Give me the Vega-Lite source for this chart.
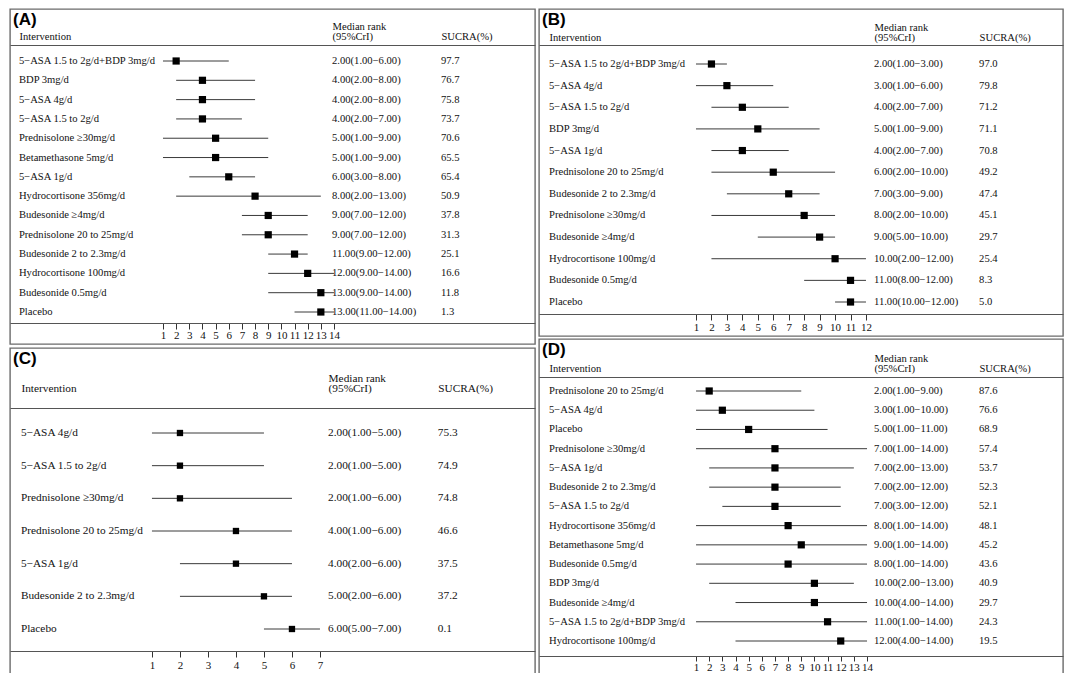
{
  "$schema": "https://vega.github.io/schema/vega-lite/v6.json",
  "background": "white",
  "padding": {"left": 9, "top": 8, "right": 0, "bottom": 0},
  "spacing": 2,
  "config": {
    "view": {"stroke": "#6b6b6b", "strokeWidth": 1.4},
    "font": "Liberation Serif",
    "text": {"font": "Liberation Serif", "color": "#111", "baseline": "middle"},
    "axis": {"labelFont": "Liberation Serif", "labelColor": "#111", "domainColor": "#555", "domainWidth": 1.2, "tickColor": "#333", "grid": false, "title": null, "labelOverlap": false, "labelFlush": false, "labelBound": false},
    "title": {"font": "Liberation Sans", "fontSize": 17, "fontWeight": "bold", "color": "#000", "anchor": "start", "frame": "group", "baseline": "bottom"}
  },
  "datasets": {
    "A": [
      {"name": "5−ASA 1.5 to 2g/d+BDP 3mg/d", "med": 2, "lo": 1, "hi": 6, "cri": "2.00(1.00−6.00)", "sucra": 97.7},
      {"name": "BDP 3mg/d", "med": 4, "lo": 2, "hi": 8, "cri": "4.00(2.00−8.00)", "sucra": 76.7},
      {"name": "5−ASA 4g/d", "med": 4, "lo": 2, "hi": 8, "cri": "4.00(2.00−8.00)", "sucra": 75.8},
      {"name": "5−ASA 1.5 to 2g/d", "med": 4, "lo": 2, "hi": 7, "cri": "4.00(2.00−7.00)", "sucra": 73.7},
      {"name": "Prednisolone ≥30mg/d", "med": 5, "lo": 1, "hi": 9, "cri": "5.00(1.00−9.00)", "sucra": 70.6},
      {"name": "Betamethasone 5mg/d", "med": 5, "lo": 1, "hi": 9, "cri": "5.00(1.00−9.00)", "sucra": 65.5},
      {"name": "5−ASA 1g/d", "med": 6, "lo": 3, "hi": 8, "cri": "6.00(3.00−8.00)", "sucra": 65.4},
      {"name": "Hydrocortisone 356mg/d", "med": 8, "lo": 2, "hi": 13, "cri": "8.00(2.00−13.00)", "sucra": 50.9},
      {"name": "Budesonide ≥4mg/d", "med": 9, "lo": 7, "hi": 12, "cri": "9.00(7.00−12.00)", "sucra": 37.8},
      {"name": "Prednisolone 20 to 25mg/d", "med": 9, "lo": 7, "hi": 12, "cri": "9.00(7.00−12.00)", "sucra": 31.3},
      {"name": "Budesonide 2 to 2.3mg/d", "med": 11, "lo": 9, "hi": 12, "cri": "11.00(9.00−12.00)", "sucra": 25.1},
      {"name": "Hydrocortisone 100mg/d", "med": 12, "lo": 9, "hi": 14, "cri": "12.00(9.00−14.00)", "sucra": 16.6},
      {"name": "Budesonide 0.5mg/d", "med": 13, "lo": 9, "hi": 14, "cri": "13.00(9.00−14.00)", "sucra": 11.8},
      {"name": "Placebo", "med": 13, "lo": 11, "hi": 14, "cri": "13.00(11.00−14.00)", "sucra": 1.3}
    ],
    "B": [
      {"name": "5−ASA 1.5 to 2g/d+BDP 3mg/d", "med": 2, "lo": 1, "hi": 3, "cri": "2.00(1.00−3.00)", "sucra": 97.0},
      {"name": "5−ASA 4g/d", "med": 3, "lo": 1, "hi": 6, "cri": "3.00(1.00−6.00)", "sucra": 79.8},
      {"name": "5−ASA 1.5 to 2g/d", "med": 4, "lo": 2, "hi": 7, "cri": "4.00(2.00−7.00)", "sucra": 71.2},
      {"name": "BDP 3mg/d", "med": 5, "lo": 1, "hi": 9, "cri": "5.00(1.00−9.00)", "sucra": 71.1},
      {"name": "5−ASA 1g/d", "med": 4, "lo": 2, "hi": 7, "cri": "4.00(2.00−7.00)", "sucra": 70.8},
      {"name": "Prednisolone 20 to 25mg/d", "med": 6, "lo": 2, "hi": 10, "cri": "6.00(2.00−10.00)", "sucra": 49.2},
      {"name": "Budesonide 2 to 2.3mg/d", "med": 7, "lo": 3, "hi": 9, "cri": "7.00(3.00−9.00)", "sucra": 47.4},
      {"name": "Prednisolone ≥30mg/d", "med": 8, "lo": 2, "hi": 10, "cri": "8.00(2.00−10.00)", "sucra": 45.1},
      {"name": "Budesonide ≥4mg/d", "med": 9, "lo": 5, "hi": 10, "cri": "9.00(5.00−10.00)", "sucra": 29.7},
      {"name": "Hydrocortisone 100mg/d", "med": 10, "lo": 2, "hi": 12, "cri": "10.00(2.00−12.00)", "sucra": 25.4},
      {"name": "Budesonide 0.5mg/d", "med": 11, "lo": 8, "hi": 12, "cri": "11.00(8.00−12.00)", "sucra": 8.3},
      {"name": "Placebo", "med": 11, "lo": 10, "hi": 12, "cri": "11.00(10.00−12.00)", "sucra": 5.0}
    ],
    "C": [
      {"name": "5−ASA 4g/d", "med": 2, "lo": 1, "hi": 5, "cri": "2.00(1.00−5.00)", "sucra": 75.3},
      {"name": "5−ASA 1.5 to 2g/d", "med": 2, "lo": 1, "hi": 5, "cri": "2.00(1.00−5.00)", "sucra": 74.9},
      {"name": "Prednisolone ≥30mg/d", "med": 2, "lo": 1, "hi": 6, "cri": "2.00(1.00−6.00)", "sucra": 74.8},
      {"name": "Prednisolone 20 to 25mg/d", "med": 4, "lo": 1, "hi": 6, "cri": "4.00(1.00−6.00)", "sucra": 46.6},
      {"name": "5−ASA 1g/d", "med": 4, "lo": 2, "hi": 6, "cri": "4.00(2.00−6.00)", "sucra": 37.5},
      {"name": "Budesonide 2 to 2.3mg/d", "med": 5, "lo": 2, "hi": 6, "cri": "5.00(2.00−6.00)", "sucra": 37.2},
      {"name": "Placebo", "med": 6, "lo": 5, "hi": 7, "cri": "6.00(5.00−7.00)", "sucra": 0.1}
    ],
    "D": [
      {"name": "Prednisolone 20 to 25mg/d", "med": 2, "lo": 1, "hi": 9, "cri": "2.00(1.00−9.00)", "sucra": 87.6},
      {"name": "5−ASA 4g/d", "med": 3, "lo": 1, "hi": 10, "cri": "3.00(1.00−10.00)", "sucra": 76.6},
      {"name": "Placebo", "med": 5, "lo": 1, "hi": 11, "cri": "5.00(1.00−11.00)", "sucra": 68.9},
      {"name": "Prednisolone ≥30mg/d", "med": 7, "lo": 1, "hi": 14, "cri": "7.00(1.00−14.00)", "sucra": 57.4},
      {"name": "5−ASA 1g/d", "med": 7, "lo": 2, "hi": 13, "cri": "7.00(2.00−13.00)", "sucra": 53.7},
      {"name": "Budesonide 2 to 2.3mg/d", "med": 7, "lo": 2, "hi": 12, "cri": "7.00(2.00−12.00)", "sucra": 52.3},
      {"name": "5−ASA 1.5 to 2g/d", "med": 7, "lo": 3, "hi": 12, "cri": "7.00(3.00−12.00)", "sucra": 52.1},
      {"name": "Hydrocortisone 356mg/d", "med": 8, "lo": 1, "hi": 14, "cri": "8.00(1.00−14.00)", "sucra": 48.1},
      {"name": "Betamethasone 5mg/d", "med": 9, "lo": 1, "hi": 14, "cri": "9.00(1.00−14.00)", "sucra": 45.2},
      {"name": "Budesonide 0.5mg/d", "med": 8, "lo": 1, "hi": 14, "cri": "8.00(1.00−14.00)", "sucra": 43.6},
      {"name": "BDP 3mg/d", "med": 10, "lo": 2, "hi": 13, "cri": "10.00(2.00−13.00)", "sucra": 40.9},
      {"name": "Budesonide ≥4mg/d", "med": 10, "lo": 4, "hi": 14, "cri": "10.00(4.00−14.00)", "sucra": 29.7},
      {"name": "5−ASA 1.5 to 2g/d+BDP 3mg/d", "med": 11, "lo": 1, "hi": 14, "cri": "11.00(1.00−14.00)", "sucra": 24.3},
      {"name": "Hydrocortisone 100mg/d", "med": 12, "lo": 4, "hi": 14, "cri": "12.00(4.00−14.00)", "sucra": 19.5}
    ]
  },
  "hconcat": [
    {
      "bounds": "flush",
      "spacing": 4,
      "vconcat": [
        {
          "width": 525, "height": 335,
          "data": {"name": "A"},
          "title": {"text": "(A)", "offset": -20, "dx": 3},
          "encoding": {"y": {"field": "name", "type": "nominal", "sort": null, "scale": {"type": "point", "range": [52, 303], "padding": 0, "round": false}, "axis": null}},
          "layer": [
            {"mark": {"type": "rule", "color": "#3a3a3a", "strokeWidth": 1},
             "encoding": {"x": {"field": "lo", "type": "quantitative", "scale": {"domain": [-10.63, 29.28], "nice": false, "zero": false},
               "axis": {"orient": "bottom", "offset": -21, "values": [1,2,3,4,5,6,7,8,9,10,11,12,13,14], "format": "d", "tickSize": 6, "labelFontSize": 11, "labelPadding": 0}},
              "x2": {"field": "hi"}}},
            {"mark": {"type": "square", "color": "#000", "size": 52, "opacity": 1},
             "encoding": {"x": {"field": "med", "type": "quantitative",
               "axis": {"orient": "top", "offset": -36, "values": [-9.95, 13.85, 22.13], "labelExpr": "datum.value < 0 ? 'Intervention' : datum.value < 18 ? ['(95%CrI)', 'Median rank'] : 'SUCRA(%)'", "ticks": false, "tickSize": 0, "labelAlign": "left", "labelBaseline": "bottom", "labelPadding": 4, "labelFontSize": 10.6, "labelLineHeight": -10}}}},
            {"mark": {"type": "text", "align": "left", "fontSize": 10.6},
             "encoding": {"x": {"datum": -9.95, "type": "quantitative", "axis": null}, "text": {"field": "name"}}},
            {"mark": {"type": "text", "align": "left", "fontSize": 10.6},
             "encoding": {"x": {"datum": 13.85, "type": "quantitative", "axis": null}, "text": {"field": "cri"}}},
            {"mark": {"type": "text", "align": "left", "fontSize": 10.6},
             "encoding": {"x": {"datum": 22.13, "type": "quantitative", "axis": null}, "text": {"field": "sucra", "format": ".1f"}}}
          ],
          "resolve": {"axis": {"x": "independent"}}
        },
        {
          "width": 525, "height": 335,
          "data": {"name": "C"},
          "title": {"text": "(C)", "offset": -20, "dx": 3},
          "encoding": {"y": {"field": "name", "type": "nominal", "sort": null, "scale": {"type": "point", "range": [85, 281], "padding": 0, "round": false}, "axis": null}},
          "layer": [
            {"mark": {"type": "rule", "color": "#3a3a3a", "strokeWidth": 1},
             "encoding": {"x": {"field": "lo", "type": "quantitative", "scale": {"domain": [-4.07, 14.68], "nice": false, "zero": false},
               "axis": {"orient": "bottom", "offset": -32, "values": [1,2,3,4,5,6,7], "format": "d", "tickSize": 6, "labelFontSize": 11, "labelPadding": 2}},
              "x2": {"field": "hi"}}},
            {"mark": {"type": "square", "color": "#000", "size": 40, "opacity": 1},
             "encoding": {"x": {"field": "med", "type": "quantitative",
               "axis": {"orient": "top", "offset": -60, "values": [-3.68, 7.29, 11.21], "labelExpr": "datum.value < 0 ? 'Intervention' : datum.value < 9 ? ['(95%CrI)', 'Median rank'] : 'SUCRA(%)'", "ticks": false, "tickSize": 0, "labelAlign": "left", "labelBaseline": "bottom", "labelPadding": 15, "labelFontSize": 11.3, "labelLineHeight": -10}}}},
            {"mark": {"type": "text", "align": "left", "fontSize": 11.3},
             "encoding": {"x": {"datum": -3.68, "type": "quantitative", "axis": null}, "text": {"field": "name"}}},
            {"mark": {"type": "text", "align": "left", "fontSize": 11.3},
             "encoding": {"x": {"datum": 7.29, "type": "quantitative", "axis": null}, "text": {"field": "cri"}}},
            {"mark": {"type": "text", "align": "left", "fontSize": 11.3},
             "encoding": {"x": {"datum": 11.21, "type": "quantitative", "axis": null}, "text": {"field": "sucra", "format": ".1f"}}}
          ],
          "resolve": {"axis": {"x": "independent"}}
        }
      ]
    },
    {
      "bounds": "flush",
      "spacing": 3,
      "vconcat": [
        {
          "width": 524, "height": 327,
          "data": {"name": "B"},
          "title": {"text": "(B)", "offset": -20, "dx": 3},
          "encoding": {"y": {"field": "name", "type": "nominal", "sort": null, "scale": {"type": "point", "range": [55, 293], "padding": 0, "round": false}, "axis": null}},
          "layer": [
            {"mark": {"type": "rule", "color": "#3a3a3a", "strokeWidth": 1},
             "encoding": {"x": {"field": "lo", "type": "quantitative", "scale": {"domain": [-9.16, 24.75], "nice": false, "zero": false},
               "axis": {"orient": "bottom", "offset": -22, "values": [1,2,3,4,5,6,7,8,9,10,11,12], "format": "d", "tickSize": 6, "labelFontSize": 11, "labelPadding": 1}},
              "x2": {"field": "hi"}}},
            {"mark": {"type": "square", "color": "#000", "size": 52, "opacity": 1},
             "encoding": {"x": {"field": "med", "type": "quantitative",
               "axis": {"orient": "top", "offset": -36, "values": [-8.51, 12.52, 19.32], "labelExpr": "datum.value < 0 ? 'Intervention' : datum.value < 16 ? ['(95%CrI)', 'Median rank'] : 'SUCRA(%)'", "ticks": false, "tickSize": 0, "labelAlign": "left", "labelBaseline": "bottom", "labelPadding": 3, "labelFontSize": 10.6, "labelLineHeight": -10}}}},
            {"mark": {"type": "text", "align": "left", "fontSize": 10.6},
             "encoding": {"x": {"datum": -8.51, "type": "quantitative", "axis": null}, "text": {"field": "name"}}},
            {"mark": {"type": "text", "align": "left", "fontSize": 10.6},
             "encoding": {"x": {"datum": 12.52, "type": "quantitative", "axis": null}, "text": {"field": "cri"}}},
            {"mark": {"type": "text", "align": "left", "fontSize": 10.6},
             "encoding": {"x": {"datum": 19.32, "type": "quantitative", "axis": null}, "text": {"field": "sucra", "format": ".1f"}}}
          ],
          "resolve": {"axis": {"x": "independent"}}
        },
        {
          "width": 524, "height": 345,
          "data": {"name": "D"},
          "title": {"text": "(D)", "offset": -20, "dx": 3},
          "encoding": {"y": {"field": "name", "type": "nominal", "sort": null, "scale": {"type": "point", "range": [52, 302], "padding": 0, "round": false}, "axis": null}},
          "layer": [
            {"mark": {"type": "rule", "color": "#3a3a3a", "strokeWidth": 1},
             "encoding": {"x": {"field": "lo", "type": "quantitative", "scale": {"domain": [-10.94, 28.9], "nice": false, "zero": false},
               "axis": {"orient": "bottom", "offset": -28, "values": [1,2,3,4,5,6,7,8,9,10,11,12,13,14], "format": "d", "tickSize": 5, "labelFontSize": 11, "labelPadding": 0}},
              "x2": {"field": "hi"}}},
            {"mark": {"type": "square", "color": "#000", "size": 52, "opacity": 1},
             "encoding": {"x": {"field": "med", "type": "quantitative",
               "axis": {"orient": "top", "offset": -38, "values": [-10.18, 14.53, 22.51], "labelExpr": "datum.value < 0 ? 'Intervention' : datum.value < 18 ? ['(95%CrI)', 'Median rank'] : 'SUCRA(%)'", "ticks": false, "tickSize": 0, "labelAlign": "left", "labelBaseline": "bottom", "labelPadding": 4, "labelFontSize": 10.6, "labelLineHeight": -10}}}},
            {"mark": {"type": "text", "align": "left", "fontSize": 10.6},
             "encoding": {"x": {"datum": -10.18, "type": "quantitative", "axis": null}, "text": {"field": "name"}}},
            {"mark": {"type": "text", "align": "left", "fontSize": 10.6},
             "encoding": {"x": {"datum": 14.53, "type": "quantitative", "axis": null}, "text": {"field": "cri"}}},
            {"mark": {"type": "text", "align": "left", "fontSize": 10.6},
             "encoding": {"x": {"datum": 22.51, "type": "quantitative", "axis": null}, "text": {"field": "sucra", "format": ".1f"}}}
          ],
          "resolve": {"axis": {"x": "independent"}}
        }
      ]
    }
  ]
}
